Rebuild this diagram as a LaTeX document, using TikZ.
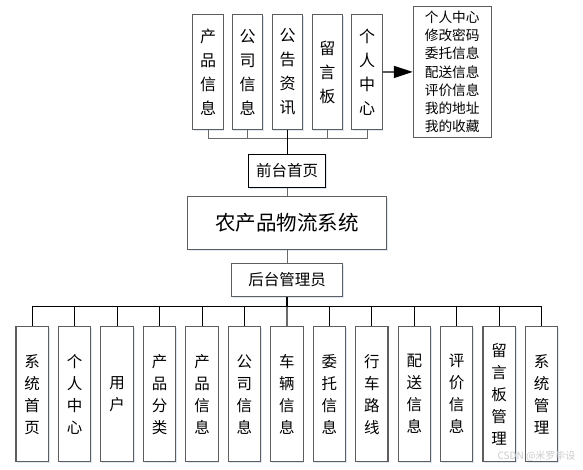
\documentclass[tikz,border=0pt]{standalone}
\usepackage{fontspec}
\newfontfamily\cjk{Noto Sans CJK SC}
\usetikzlibrary{arrows.meta,shadows}
\definecolor{boxgray}{HTML}{5E5E5E}
\definecolor{linegray}{HTML}{6A6A6A}
\definecolor{shadowblue}{HTML}{C8D8F0}
\begin{document}
\begin{tikzpicture}[x=1pt,y=-1pt,
  base/.style={draw=boxgray,line width=1.1pt,fill=white,inner sep=0pt,align=center,
    drop shadow={shadow xshift=1.2pt,shadow yshift=-1.2pt,fill=shadowblue,opacity=0.6}},
  topbox/.style={base,minimum width=30.5pt,minimum height=114.6pt,font=\cjk\fontsize{16}{24}\selectfont},
  botbox/.style={base,minimum width=32.4pt,minimum height=135pt,font=\cjk\fontsize{15.5}{22}\selectfont},
  conn/.style={draw=linegray,line width=1pt},
  blk/.style={draw=black,line width=1pt}]
\useasboundingbox (0,0) rectangle (583,469);
\fill[white] (0,0) rectangle (583,469);
% top boxes
\node[topbox] (t1) at (208,72) {产\\品\\信\\息};
\node[topbox] (t2) at (247.5,72) {公\\司\\信\\息};
\node[topbox] (t3) at (287.5,72) {公\\告\\资\\讯};
\node[topbox] (t4) at (327.3,72) {留\\言\\板};
\node[topbox] (t5) at (367,72) {个\\人\\中\\心};
\node[base,draw=boxgray,minimum width=77.7pt,minimum height=130.3pt,align=left,
  font=\cjk\fontsize{13.7}{18.1}\selectfont] (rb) at (452.2,71.9)
  {个人中心\\修改密码\\委托信息\\配送信息\\评价信息\\我的地址\\我的收藏};
\draw[blk,line width=1.4pt,-{Triangle[length=19pt,width=12pt]}] (t5.east) -- (rb.west);
% front page
\node[base,draw=black,minimum width=77.4pt,minimum height=33.3pt,font=\cjk\fontsize{15.5}{18}\selectfont] (qt) at (287,170.7) {前台首页};
\coordinate (tb) at (287.5,138.7);
\draw[conn] (t1.south) |- (tb) -| (t5.south);
\draw[conn] (t2.south) -- (t2.south |- tb);
\draw[conn] (t4.south) -- (t4.south |- tb);
\draw[blk,line width=1.8pt] (t3.south) -- (qt.north -| t3.south);
% main
\node[base,minimum width=199pt,minimum height=52.6pt,font=\cjk\fontsize{20.5}{24}\selectfont] (main) at (287.2,223) {农产品物流系统};
\draw[conn] (qt.south) -- (main.north -| qt.south);
% back admin
\node[base,minimum width=110.6pt,minimum height=33.4pt,font=\cjk\fontsize{15.5}{18}\selectfont] (ht) at (287,280) {后台管理员};
\draw[conn] (main.south -| ht.north) -- (ht.north);
% bottom boxes
\foreach \i/\t in {1/{系\\统\\首\\页},2/{个\\人\\中\\心},3/{用\\户},4/{产\\品\\分\\类},
  5/{产\\品\\信\\息},6/{公\\司\\信\\息},7/{车\\辆\\信\\息},8/{委\\托\\信\\息},
  9/{行\\车\\路\\线},10/{配\\送\\信\\息},11/{评\\价\\信\\息},12/{留\\言\\板\\管\\理},13/{系\\统\\管\\理}}
  {\node[botbox] (b\i) at ({32.2+42.45*(\i-1)},394.2) {\t};}
\coordinate (bb) at (287,306.7);
\draw[blk,line width=1.6pt] (ht.south) -- (ht.south |- bb);
\draw[blk] (b1.north) |- (bb) -| (b13.north);
\foreach \i in {2,3,4,5,6,8,9,10,11,12}
  {\draw[blk] (b\i.north) -- (b\i.north |- bb);}
\draw[conn,line width=1.3pt] (b7.north) -- (b7.north |- bb);
% watermark
\node[text=black!20,font=\cjk\fontsize{10}{12}\selectfont,anchor=east] (wm) at (579,456.5) {CSDN @米罗毕设};
\end{tikzpicture}
\end{document}
